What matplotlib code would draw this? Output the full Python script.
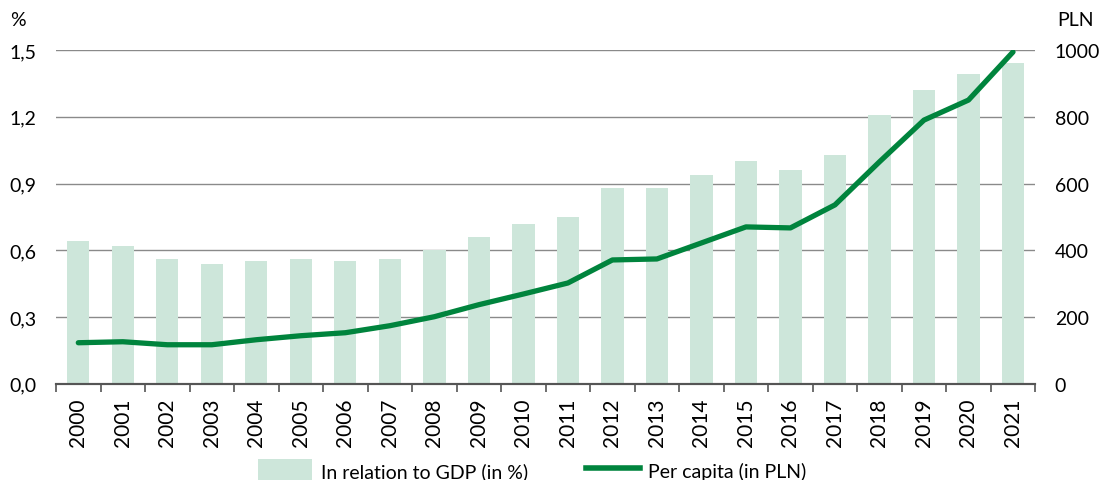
import matplotlib.pyplot as plt
import numpy as np
from matplotlib.ticker import FuncFormatter, FixedLocator
from matplotlib.patches import Patch
from matplotlib.lines import Line2D

plt.rcParams['font.family'] = ['Lato', 'DejaVu Sans']

years = [str(y) for y in range(2000, 2022)]
gdp_share = [0.64, 0.62, 0.56, 0.54, 0.55, 0.56, 0.55, 0.56, 0.60, 0.66, 0.72,
             0.75, 0.88, 0.88, 0.94, 1.00, 0.96, 1.03, 1.21, 1.32, 1.39, 1.44]
per_capita = [123, 126, 117, 117, 132, 144, 153, 174, 201, 237, 269,
              302, 371, 374, 422, 470, 467, 536, 665, 790, 850, 994]

bar_color = '#cde6da'
line_color = '#00843d'
grid_color = '#8a8a8a'

fig = plt.figure(figsize=(10.99, 4.81), dpi=100)
ax = fig.add_axes([0.051, 0.2, 0.891, 0.694])
ax2 = ax.twinx()

x = np.arange(len(years))
ax.bar(x, gdp_share, width=0.5, color=bar_color, zorder=2)
ax2.plot(x, per_capita, color=line_color, linewidth=3.8, solid_capstyle='round', zorder=3)

ax.set_xlim(-0.5, len(years) - 0.5)
ax.set_ylim(0, 1.5)
ax2.set_ylim(0, 1000)
ax.set_yticks(np.arange(0, 1.51, 0.3))
ax2.set_yticks(np.arange(0, 1001, 200))
ax.yaxis.set_major_formatter(FuncFormatter(lambda v, p: f'{v:.1f}'.replace('.', ',')))
ax.grid(axis='y', color=grid_color, linewidth=1, zorder=0)
ax.set_axisbelow(True)

ax.set_xticks(x)
ax.set_xticklabels(years, rotation=90, fontsize=15)
ax.xaxis.set_minor_locator(FixedLocator(np.arange(-0.5, len(years), 1)))
ax.tick_params(axis='x', which='major', length=0, pad=10)
ax.tick_params(axis='x', which='minor', length=6, width=1.2, color='#555555', direction='out')
ax.tick_params(axis='y', length=0, labelsize=14, pad=14)
ax2.tick_params(axis='y', length=0, labelsize=14, pad=14)

for a in (ax, ax2):
    for s in ('left', 'right', 'top'):
        a.spines[s].set_visible(False)
    a.spines['bottom'].set_color('#555555')
    a.spines['bottom'].set_linewidth(1.5)

fig.text(0.009, 0.94, '%', fontsize=14, va='bottom')
fig.text(0.962, 0.94, 'PLN', fontsize=14, va='bottom')

handles = [Patch(facecolor=bar_color, edgecolor='none'),
           Line2D([0], [0], color=line_color, linewidth=4)]
labels = ['In relation to GDP (in %)', 'Per capita (in PLN)']
fig.legend(handles, labels, loc='lower center', bbox_to_anchor=(0.4845, -0.04), ncol=2,
           frameon=False, fontsize=14, handlelength=2.75, handleheight=1.4,
           columnspacing=3.0, handletextpad=0.45)

fig.savefig('out.png', dpi=100)
